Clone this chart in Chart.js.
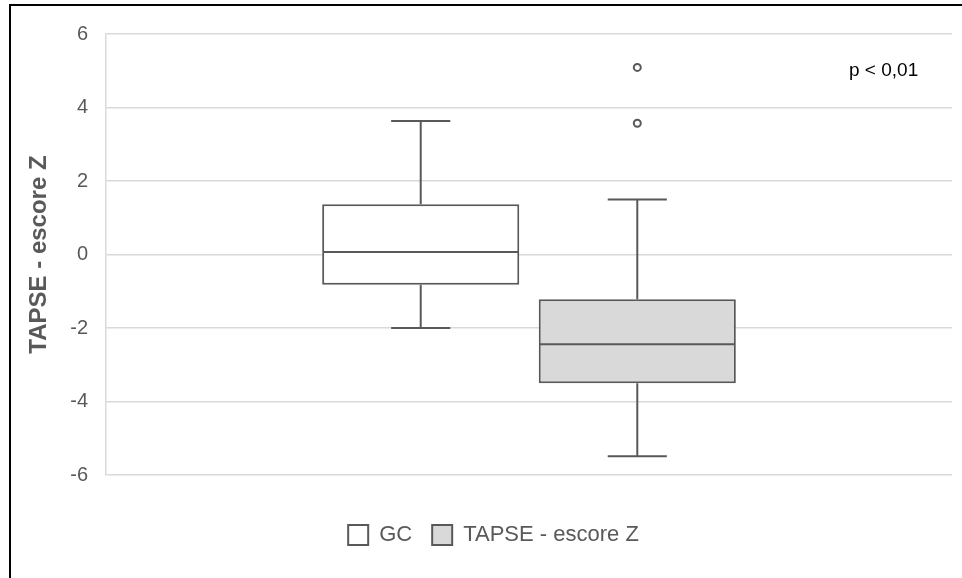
<!DOCTYPE html>
<html>
<head>
<meta charset="utf-8">
<script src="https://cdn.jsdelivr.net/npm/chart.js@4.4.1/dist/chart.umd.min.js"></script>
<style>
  html, body { margin: 0; padding: 0; background: #fff; }
  #wrap { position: relative; width: 962px; height: 578px; overflow: hidden; }
  #frame { position: absolute; left: 9px; top: 4px; width: 1000px; height: 700px;
           border-top: 2px solid #000; border-left: 2px solid #000; pointer-events: none; }
  #pval { position: absolute; left: 849px; top: 59px; font: 19px "Liberation Sans", Arial, sans-serif; color: #000; }
</style>
</head>
<body>
<div id="wrap">
  <canvas id="myChart" width="962" height="578"></canvas>
  <div id="frame"></div>
  <div id="pval">p &lt; 0,01</div>
</div>
<script>
// dados do boxplot
const groups = ['GC', 'TAPSE - escore Z'];
const mins = [-2.0, -5.49];
const q1s = [-0.82, -3.5];
const medians = [0.07, -2.44];
const q3s = [1.37, -1.22];
const maxs = [3.63, 1.5];
const outliers = [[], [5.09, 3.57]];
const yTicks = [-6, -4, -2, 0, 2, 4, 6];

const lineColor = '#595959';
const fills = ['#ffffff', '#d9d9d9'];

// bigodes, mediana e outliers
const boxPlugin = {
  id: 'boxWhiskers',
  afterDatasetsDraw(chart) {
    const ctx = chart.ctx;
    const y = chart.scales.y;
    ctx.save();
    ctx.strokeStyle = lineColor;
    ctx.lineWidth = 2;
    groups.forEach((g, i) => {
      const bar = chart.getDatasetMeta(i).data[0];
      const cx = bar.x;
      const half = bar.width / 2;
      const cap = bar.width * 0.15;
      ctx.beginPath();
      // mediana
      ctx.moveTo(cx - half + 1, y.getPixelForValue(medians[i]));
      ctx.lineTo(cx + half - 1, y.getPixelForValue(medians[i]));
      // bigode superior
      ctx.moveTo(cx, y.getPixelForValue(q3s[i]));
      ctx.lineTo(cx, y.getPixelForValue(maxs[i]));
      ctx.moveTo(cx - cap, y.getPixelForValue(maxs[i]));
      ctx.lineTo(cx + cap, y.getPixelForValue(maxs[i]));
      // bigode inferior
      ctx.moveTo(cx, y.getPixelForValue(q1s[i]));
      ctx.lineTo(cx, y.getPixelForValue(mins[i]));
      ctx.moveTo(cx - cap, y.getPixelForValue(mins[i]));
      ctx.lineTo(cx + cap, y.getPixelForValue(mins[i]));
      ctx.stroke();
      outliers[i].forEach(v => {
        ctx.beginPath();
        ctx.arc(cx, y.getPixelForValue(v), 3.5, 0, Math.PI * 2);
        ctx.fillStyle = '#ffffff';
        ctx.fill();
        ctx.stroke();
      });
    });
    ctx.restore();
  }
};

const ctx = document.getElementById('myChart');

new Chart(ctx, {
  type: 'bar',
  data: {
    labels: [''],
    datasets: groups.map((g, i) => ({
      label: g,
      data: [[q1s[i], q3s[i]]],
      backgroundColor: fills[i],
      borderColor: lineColor,
      borderWidth: 2,
      borderSkipped: false,
      categoryPercentage: 0.512,
      barPercentage: 0.91
    }))
  },
  options: {
    responsive: false,
    animation: false,
    devicePixelRatio: 1,
    layout: {
      padding: { top: 34, left: 35, right: 10, bottom: 22 }
    },
    plugins: {
      tooltip: { enabled: false },
      legend: {
        position: 'bottom',
        labels: {
          boxWidth: 20,
          boxHeight: 20,
          padding: 20,
          color: lineColor,
          font: { family: 'Liberation Sans', size: 22 }
        }
      }
    },
    scales: {
      x: {
        display: true,
        grid: { display: false },
        border: { display: false },
        ticks: { display: false },
        afterFit(scale) { scale.height = 29; }
      },
      y: {
        min: -6,
        max: 6,
        afterBuildTicks(scale) { scale.ticks = yTicks.map(v => ({ value: v })); },
        afterFit(scale) { scale.width = 71; },
        grid: { color: '#d9d9d9', lineWidth: 1.5, drawTicks: false },
        border: { display: true, color: '#d9d9d9', width: 1.5 },
        ticks: {
          padding: 18,
          color: lineColor,
          font: { family: 'Liberation Sans', size: 20 }
        },
        title: {
          display: true,
          text: 'TAPSE - escore Z',
          color: lineColor,
          padding: { top: -10, bottom: 0 },
          font: { family: 'Liberation Sans', size: 24, weight: 'bold' }
        }
      }
    }
  },
  plugins: [boxPlugin]
});
</script>
</body>
</html>
